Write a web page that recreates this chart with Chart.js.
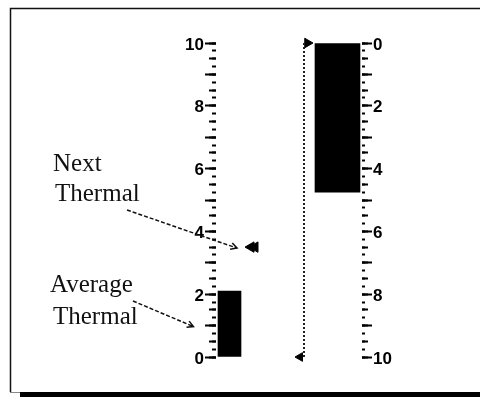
<!DOCTYPE html>
<html>
<head>
<meta charset="utf-8">
<script src="https://cdn.jsdelivr.net/npm/chart.js@4.4.0/dist/chart.umd.min.js"></script>
<style>
  html, body { margin: 0; padding: 0; background: #fff; }
  #wrap { width: 480px; height: 397px; }
</style>
</head>
<body>
<div id="wrap"><canvas id="thermalChart" width="480" height="397"></canvas></div>
<script>
// gauge values
const gaugeRange = [0, 10];
const leftTickLabels = [0, 2, 4, 6, 8, 10];
const rightTickLabels = [0, 2, 4, 6, 8, 10];
const climbBar = [2.1];          // left (thermal) bar
const nextThermal = [3.5];       // double marker on left scale
const averageThermal = [1.0];    // leader target on left scale
const altitudeBar = [4.75];      // right bar, hangs from 0 (top)
const calloutText = [['Next', 'Thermal'], ['Average', 'Thermal']];

// horizontal placement of columns (x-axis units, layout only)
const col = {
    climb: 13.5,
    nextA: 35,
    nextB: 39,
    gauge: 88,
    gaugeTop: 91.5,
    gaugeBottom: 84,
    altitude: 121.5
};

const tickFont = { family: "'Liberation Sans', Arial, sans-serif", size: 17, weight: 'bold' };

function tickAxis(position, stepSize, tickLength, weight, reverse) {
    return {
        type: 'linear',
        position: position,
        weight: weight,
        reverse: reverse,
        min: gaugeRange[0],
        max: gaugeRange[1],
        border: { display: false },
        grid: { drawOnChartArea: false, tickLength: tickLength, tickWidth: 2, tickColor: '#000' },
        ticks: { display: false, stepSize: stepSize },
        afterFit: scale => { scale.width = 0; }
    };
}

// frame with drop shadow
const framePlugin = {
    id: 'frame',
    beforeDraw(chart) {
        const ctx = chart.ctx;
        ctx.save();
        ctx.fillStyle = '#fff';
        ctx.fillRect(0, 0, chart.width, chart.height);
        ctx.strokeStyle = '#111';
        ctx.lineWidth = 1.5;
        ctx.beginPath();
        ctx.moveTo(10.5, 392);
        ctx.lineTo(10.5, 8.5);
        ctx.lineTo(chart.width, 8.5);
        ctx.stroke();
        ctx.strokeStyle = '#888';
        ctx.lineWidth = 1;
        ctx.beginPath();
        ctx.moveTo(10, 392.5);
        ctx.lineTo(20, 392.5);
        ctx.stroke();
        ctx.fillStyle = '#000';
        ctx.fillRect(20, 392, chart.width - 20, 5);
        ctx.restore();
    }
};

// callout texts with dashed leader arrows
const calloutPlugin = {
    id: 'callouts',
    afterDatasetsDraw(chart) {
        const ctx = chart.ctx;
        const x = chart.scales.x;
        const yL = chart.scales.yL;

        ctx.save();
        ctx.fillStyle = '#111';
        ctx.font = "25px 'Liberation Serif', 'DejaVu Serif', serif";
        ctx.textBaseline = 'alphabetic';
        ctx.fillText(calloutText[0][0], 53, 171);
        ctx.fillText(calloutText[0][1], 55, 201);
        ctx.fillText(calloutText[1][0], 50, 292);
        ctx.fillText(calloutText[1][1], 53, 324);

        const leaders = [
            { from: [127, 210], to: [x.getPixelForValue(col.nextA) - 14, yL.getPixelForValue(nextThermal[0]) + 1] },
            { from: [133, 301], to: [x.getPixelForValue(col.climb) - 36, yL.getPixelForValue(averageThermal[0]) + 1] }
        ];
        ctx.strokeStyle = '#111';
        ctx.lineWidth = 1.5;
        leaders.forEach(l => {
            const [x0, y0] = l.from;
            const [x1, y1] = l.to;
            ctx.setLineDash([4, 2]);
            ctx.beginPath();
            ctx.moveTo(x0, y0);
            ctx.lineTo(x1, y1);
            ctx.stroke();
            const a = Math.atan2(y1 - y0, x1 - x0);
            ctx.setLineDash([]);
            ctx.beginPath();
            ctx.moveTo(x1 - 7 * Math.cos(a - 0.5), y1 - 7 * Math.sin(a - 0.5));
            ctx.lineTo(x1, y1);
            ctx.lineTo(x1 - 7 * Math.cos(a + 0.5), y1 - 7 * Math.sin(a + 0.5));
            ctx.stroke();
        });
        ctx.restore();
    }
};

const ctx = document.getElementById('thermalChart');

new Chart(ctx, {
    type: 'bar',
    data: {
        datasets: [{
            label: 'Climb',
            yAxisID: 'yL',
            data: [{ x: col.climb, y: climbBar[0] }],
            backgroundColor: '#000',
            borderWidth: 0,
            barThickness: 23,
            grouped: false
        }, {
            label: 'Altitude',
            yAxisID: 'yR',
            data: [{ x: col.altitude, y: altitudeBar[0] }],
            backgroundColor: '#000',
            borderWidth: 0,
            barThickness: 45,
            grouped: false
        }, {
            type: 'line',
            label: 'Gauge',
            yAxisID: 'yR',
            data: [{ x: col.gauge, y: gaugeRange[0] }, { x: col.gauge, y: gaugeRange[1] }],
            borderColor: '#222',
            borderWidth: 2,
            borderDash: [2, 2],
            pointRadius: 0,
            clip: false
        }, {
            type: 'scatter',
            label: 'Gauge ends',
            yAxisID: 'yR',
            data: [{ x: col.gaugeTop, y: gaugeRange[0] }, { x: col.gaugeBottom, y: gaugeRange[1] }],
            pointStyle: 'triangle',
            pointRotation: [90, 270],
            pointRadius: [5.5, 5],
            backgroundColor: '#000',
            borderColor: '#000',
            borderWidth: 1,
            clip: false
        }, {
            type: 'scatter',
            label: 'Next Thermal',
            yAxisID: 'yL',
            data: [{ x: col.nextA, y: nextThermal[0] }, { x: col.nextB, y: nextThermal[0] }],
            pointStyle: 'triangle',
            pointRotation: 270,
            pointRadius: 6,
            backgroundColor: '#000',
            borderColor: '#000',
            borderWidth: 1,
            clip: false
        }]
    },
    options: {
        responsive: false,
        animation: false,
        events: [],
        layout: { padding: { left: 176, right: 88, top: 43, bottom: 40 } },
        plugins: {
            legend: { display: false },
            tooltip: { enabled: false }
        },
        scales: {
            x: { type: 'linear', display: false, offset: false, min: 0, max: 146 },
            yL: {
                type: 'linear',
                position: 'left',
                weight: 2,
                min: gaugeRange[0],
                max: gaugeRange[1],
                border: { display: false },
                grid: { drawOnChartArea: false, tickLength: 11, tickWidth: 2, tickColor: '#000' },
                ticks: {
                    stepSize: 1,
                    autoSkip: false,
                    padding: 1,
                    labelOffset: 2,
                    color: '#000',
                    font: tickFont,
                    callback: v => leftTickLabels.includes(v) ? v : ''
                },
                afterFit: scale => { scale.width = 40; }
            },
            yLhalf: tickAxis('left', 0.5, 7, 1, false),
            yLquarter: tickAxis('left', 0.25, 4, 0, false),
            yR: {
                type: 'linear',
                position: 'right',
                weight: 2,
                reverse: true,
                min: gaugeRange[0],
                max: gaugeRange[1],
                border: { display: false },
                grid: { drawOnChartArea: false, tickLength: 10, tickWidth: 2, tickColor: '#000' },
                ticks: {
                    stepSize: 1,
                    autoSkip: false,
                    padding: 1,
                    labelOffset: 2,
                    color: '#000',
                    font: tickFont,
                    callback: v => rightTickLabels.includes(v) ? v : ''
                },
                afterFit: scale => { scale.width = 30; }
            },
            yRhalf: tickAxis('right', 0.5, 6, 1, true),
            yRquarter: tickAxis('right', 0.25, 3, 0, true)
        }
    },
    plugins: [framePlugin, calloutPlugin]
});
</script>
</body>
</html>
